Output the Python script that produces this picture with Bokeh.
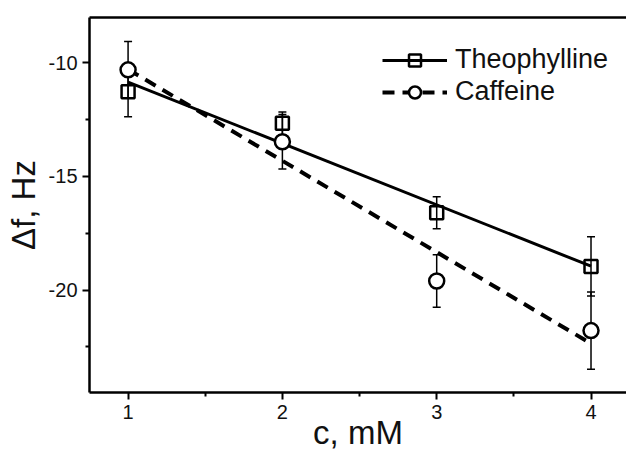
from bokeh.plotting import figure
from bokeh.models import (Range1d, FixedTicker, LinearAxis, ColumnDataSource, Whisker,
                          TeeHead, Legend, LegendItem)
from bokeh.embed import file_html
from bokeh.resources import INLINE

# ---- data ----
conc = [1, 2, 3, 4]
theo_y = [-11.28, -12.67, -16.6, -18.96]
theo_err = [1.1, 0.5, 0.7, 1.3]
caff_y = [-10.32, -13.48, -19.6, -21.78]
caff_err = [1.25, 1.2, 1.15, 1.7]
theo_fit_x = [1, 4]
theo_fit_y = [-10.86, -18.95]
caff_fit_x = [1, 4]
caff_fit_y = [-10.3, -22.35]
x_ticks = [1, 2, 3, 4]
x_labels = ["1", "2", "3", "4"]
x_minor = [1.5, 2.5, 3.5]
y_ticks = [-20, -15, -10]
y_labels = ["-20", "-15", "-10"]
y_minor = [-22.5, -17.5, -12.5]

FONT = "Liberation Sans"

p = figure(width=626, height=459, output_backend="svg", toolbar_location=None,
           x_range=Range1d(0.75, 4.23), y_range=Range1d(-24.5, -8.02),
           min_border_left=89, min_border_right=0, min_border_top=17, min_border_bottom=67,
           x_axis_location="below", y_axis_location="left")
p.grid.visible = False
p.outline_line_color = None
p.background_fill_color = "white"
p.border_fill_color = "white"

for ax, tk, lb, mn, so in ((p.xaxis[0], x_ticks, x_labels, x_minor, 5),
                           (p.yaxis[0], y_ticks, y_labels, y_minor, 5)):
    ax.ticker = FixedTicker(ticks=tk, minor_ticks=mn)
    ax.major_label_overrides = {t: s for t, s in zip(tk, lb)}
    ax.axis_line_width = 2.5
    ax.axis_line_color = "black"
    ax.major_tick_line_width = 2
    ax.major_tick_line_color = "black"
    ax.major_tick_out = 7
    ax.major_tick_in = 0
    ax.minor_tick_line_width = 2
    ax.minor_tick_line_color = "black"
    ax.minor_tick_out = 4
    ax.minor_tick_in = 0
    ax.major_label_text_font = FONT
    ax.major_label_text_font_size = "20px"
    ax.major_label_text_color = "#111111"
    ax.major_label_standoff = so
    ax.axis_label_text_font = FONT
    ax.axis_label_text_font_size = "33px"
    ax.axis_label_text_font_style = "normal"
    ax.axis_label_text_color = "#111111"

p.xaxis[0].axis_label = "c, mM"
p.xaxis[0].axis_label_standoff = -8
p.yaxis[0].axis_label = "Δf, Hz"
p.yaxis[0].axis_label_standoff = 4

top = LinearAxis(ticker=FixedTicker(ticks=[]), axis_line_width=2.5, axis_line_color="black",
                 major_tick_out=0, major_tick_in=0, minor_tick_out=0, minor_tick_in=0,
                 major_label_text_font_size="0px", major_label_standoff=0)
p.add_layout(top, "above")

# error bars
theo_src = ColumnDataSource(dict(x=conc, y=theo_y,
                                 upper=[a + b for a, b in zip(theo_y, theo_err)],
                                 lower=[a - b for a, b in zip(theo_y, theo_err)]))
caff_src = ColumnDataSource(dict(x=conc, y=caff_y,
                                 upper=[a + b for a, b in zip(caff_y, caff_err)],
                                 lower=[a - b for a, b in zip(caff_y, caff_err)]))
for src in (theo_src, caff_src):
    w = Whisker(source=src, base="x", upper="upper", lower="lower", dimension="height",
                line_width=1.5, line_color="black",
                upper_head=TeeHead(size=8, line_width=1.5, line_color="black"),
                lower_head=TeeHead(size=8, line_width=1.5, line_color="black"))
    p.add_layout(w)

# fit lines
l_theo = p.line(theo_fit_x, theo_fit_y, line_color="black", line_width=3)
l_caff = p.line(caff_fit_x, caff_fit_y, line_color="black", line_width=4, line_dash="12 8")

# markers
m_theo = p.scatter("x", "y", source=theo_src, marker="square", size=13,
                   fill_color=None, line_color="black", line_width=2.5)
m_caff = p.scatter("x", "y", source=caff_src, marker="circle", size=15,
                   fill_color="white", line_color="black", line_width=2.5)

legend = Legend(items=[LegendItem(label="Theophylline", renderers=[l_theo, m_theo]),
                       LegendItem(label="Caffeine", renderers=[l_caff, m_caff])],
                location=(293, 285), glyph_width=65, glyph_height=30, label_height=30,
                spacing=1, padding=0, margin=0, label_standoff=8,
                label_text_font=FONT, label_text_font_size="27px", label_text_color="#111111",
                border_line_color=None, background_fill_alpha=0)
p.add_layout(legend, "center")

open("out.html", "w").write(file_html(p, INLINE))
